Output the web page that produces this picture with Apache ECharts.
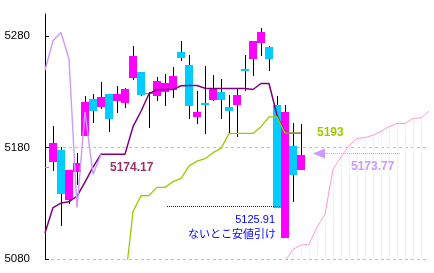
<!DOCTYPE html>
<html><head><meta charset="utf-8">
<script src="https://cdn.jsdelivr.net/npm/echarts@6/dist/echarts.min.js"></script>
<style>html,body{margin:0;padding:0;background:#fff}#c{width:434px;height:273px}</style>
</head><body><div id="c"></div>
<script>
// ---- data ----
const categories = Array.from({length: 49}, (_, i) => String(i + 1));
const candleOpen  = [5163, 5167.3, 5177.8, 5133.2, 5158.3, 5190.3, 5223.5, 5216.6, 5228.0, 5221.7, 5220.2, 5242.6, 5248.0, 5229.5, 5226.2, 5230.0, 5232.2, 5265.7, 5254.0, 5207.6, 5219.9, 5223.2, 5229.8, 5216.3, 5218.1, 5250.4, 5259.4, 5274.0, 5270.4, 5218.1, 5098.6, 5181.3, 5159.8];
const candleClose = [5162, 5184.3, 5138.0, 5159.8, 5166.1, 5221.1, 5213.0, 5225.3, 5205.3, 5228.0, 5232.5, 5262.3, 5227.4, 5229.0, 5239.6, 5237.8, 5244.1, 5260.5, 5217.5, 5211.8, 5218.4, 5233.1, 5223.0, 5212.7, 5227.1, 5248.6, 5275.5, 5283.6, 5259.6, 5125.91, 5212.1, 5155.3, 5173.77];
const candleLow   = [5160, 5158.9, 5109.9, 5129.3, 5146.4, 5190.3, 5202.2, 5215.0, 5194.2, 5211.2, 5215.7, 5240.5, 5226.2, 5197.8, 5222.0, 5217.5, 5224.7, 5257.8, 5205.8, 5201.3, 5192.1, 5222.0, 5205.8, 5192.4, 5189.7, 5230.7, 5244.1, 5262.3, 5248.9, 5125.91, 5098.6, 5131.4, 5159.8];
const candleHigh  = [5165, 5199.3, 5180.7, 5159.8, 5174.8, 5226.0, 5228.0, 5239.0, 5228.5, 5235.2, 5233.4, 5271.3, 5248.0, 5230.0, 5243.5, 5245.9, 5252.2, 5275.5, 5263.0, 5230.7, 5253.1, 5245.0, 5241.4, 5227.0, 5233.1, 5263.2, 5275.5, 5287.8, 5271.0, 5226.2, 5218.1, 5202.2, 5200.8];
// purple line
const kijunLine = [5103.3, 5126.2, 5130.2, 5131.4, 5136.5, 5149.1, 5162.5, 5174.17, 5174.17, 5174.17, 5174.17, 5198.8, 5212.7, 5228.4, 5232.0, 5232.2, 5232.2, 5235.6, 5235.8, 5235.8, 5233.4, 5233.0, 5233.0, 5233.0, 5233.0, 5233.0, 5232.2, 5237.6, 5237.6, 5209.1, 5193.0, 5193.0, 5193.0];
// yellow-green line
const tenkanLine = [null, null, null, null, null, null, null, null, null, null, 5058.5, 5122.6, 5136.8, 5137.0, 5144.3, 5144.3, 5149.5, 5152.4, 5163.4, 5167.9, 5170.1, 5175.5, 5179.3, 5192.6, 5192.8, 5192.8, 5192.8, 5198.8, 5207.6, 5207.6, 5193.0, 5193.0, 5193.0];
// lavender lagging line
const chikouLine = [5249.5, 5276.0, 5283.3, 5259.6, 5126.0, 5212.1, 5156.0, 5173.77];
// pink leading line (future cloud)
const senkouLine = [null, null, null, null, null, null, null, null, null, null, null, null, null, null, null, null, null, null, null, null, null, null, null, null, null, null, null, null, null, null, 5077.8, 5088.7, 5092.6, 5093.2, 5108.7, 5120.4, 5160.7, 5171.5, 5181.8, 5188.3, 5189.0, 5191.2, 5194.8, 5198.8, 5201.7, 5201.7, 5206.2, 5206.7, 5212.7];
const yTickValues = [5080, 5180, 5280];

// ---- chart ----
const MAGENTA = '#ff00ff', CYAN = '#00ccff';
const chart = echarts.init(document.getElementById('c'));

const candleData = candleOpen.map((o, i) => [i, o, candleClose[i], candleLow[i], candleHigh[i]]);
const cloudData = senkouLine.map((v, i) => [i, v]).filter(d => d[1] != null && d[0] < categories.length - 1);

function renderCandle(params, api) {
  const i = api.value(0), o = api.value(1), c = api.value(2), l = api.value(3), h = api.value(4);
  const pO = api.coord([i, o]), pC = api.coord([i, c]), pL = api.coord([i, l]), pH = api.coord([i, h]);
  const x = Math.round(pO[0]);
  const cs = params.coordSys;
  const top = Math.round(Math.min(pO[1], pC[1]));
  const bot = Math.round(Math.max(pO[1], pC[1]));
  const children = [{
    type: 'line',
    shape: {x1: x + 0.5, y1: Math.round(pH[1]), x2: x + 0.5, y2: Math.round(pL[1])},
    style: {stroke: '#000', lineWidth: 1}
  }];
  const rect = echarts.graphic.clipRectByRect(
    {x: x - 4, y: top, width: 8, height: Math.max(bot - top, 1)},
    {x: cs.x, y: cs.y, width: cs.width, height: cs.height});
  if (rect) children.push({type: 'rect', shape: rect, style: {fill: c >= o ? MAGENTA : CYAN}});
  return {type: 'group', children};
}

function renderCloud(params, api) {
  const i = api.value(0), v = api.value(1);
  const p = api.coord([i, v]);
  const cs = params.coordSys;
  const bottom = cs.y + cs.height;
  if (p[1] >= bottom) return null;
  const x = Math.round(p[0]);
  return {type: 'rect', shape: {x: x, y: Math.max(p[1], cs.y), width: 1, height: bottom - Math.max(p[1], cs.y)},
          style: {fill: '#ffff88'}};
}

const option = {
  animation: false,
  backgroundColor: '#fff',
  grid: {left: 45, top: 14, width: 384, height: 245},
  xAxis: {type: 'category', data: categories, boundaryGap: false, show: false},
  yAxis: {
    type: 'value', min: 5080, max: 5300, interval: 100,
    axisLine: {show: true, lineStyle: {color: '#000', width: 1}},
    axisTick: {show: true, inside: true, length: 4, lineStyle: {color: '#000'}, customValues: yTickValues},
    axisLabel: {customValues: yTickValues, formatter: v => String(v), color: '#000', fontFamily: 'Liberation Sans', fontSize: 11.5, margin: 15},
    splitLine: {show: true, showMaxLine: false, lineStyle: {color: '#c0c0c0', width: 1, type: [3, 3]}}
  },
  series: [
    {type: 'custom', name: 'cloud', data: cloudData, renderItem: renderCloud, encode: {x: 0, y: 1}, z: 1, silent: true},
    {type: 'line', name: 'senkou', data: senkouLine, symbol: 'none', z: 2, silent: true,
     lineStyle: {color: '#ff99cc', width: 1}},
    {type: 'custom', name: 'candles', data: candleData, renderItem: renderCandle, encode: {x: 0, y: [1, 2, 3, 4]}, z: 3, silent: true},
    {type: 'line', name: 'kijun', data: kijunLine, symbol: 'none', z: 4, silent: true,
     lineStyle: {color: '#800080', width: 1.5}},
    {type: 'line', name: 'tenkan', data: tenkanLine, symbol: 'none', z: 5, silent: true,
     lineStyle: {color: '#99cc00', width: 1.3}},
    {type: 'line', name: 'chikou', data: chikouLine, symbol: 'none', z: 6, silent: true,
     lineStyle: {color: '#cc99ff', width: 1.4}}
  ],
  graphic: [
    {type: 'text', x: 110, y: 167.5, z: 10, style: {text: '5174.17', font: 'bold 12px "Liberation Sans"', fill: '#993366', align: 'left', verticalAlign: 'middle'}},
    {type: 'text', x: 317, y: 133, z: 10, style: {text: '5193', font: 'bold 12px "Liberation Sans"', fill: '#99cc00', align: 'left', verticalAlign: 'middle'}},
    {type: 'text', x: 351, y: 167, z: 10, style: {text: '5173.77', font: 'bold 12px "Liberation Sans"', fill: '#cc99ff', align: 'left', verticalAlign: 'middle'}},
    {type: 'line', z: 10, shape: {x1: 325, y1: 153.5, x2: 400, y2: 153.5}, style: {stroke: '#cc99ff', lineWidth: 1, lineDash: [1, 1]}},
    {type: 'polygon', z: 10, shape: {points: [[313, 153.5], [325, 148.5], [325, 158.5]]}, style: {fill: '#cc99ff'}},
    {type: 'line', z: 10, shape: {x1: 167, y1: 206.5, x2: 280, y2: 206.5}, style: {stroke: '#0000ff', lineWidth: 1, lineDash: [1, 1]}},
    {type: 'text', x: 275, y: 219.5, z: 10, style: {text: '5125.91', font: '11px "Liberation Sans"', fill: '#0000ff', align: 'right', verticalAlign: 'middle'}},
    {type: 'text', x: 276, y: 234, z: 10, style: {text: 'ないとこ安値引け', font: '11px "Noto Sans CJK JP"', fill: '#0000ff', align: 'right', verticalAlign: 'middle'}}
  ]
};
chart.setOption(option);
</script>
</body></html>
